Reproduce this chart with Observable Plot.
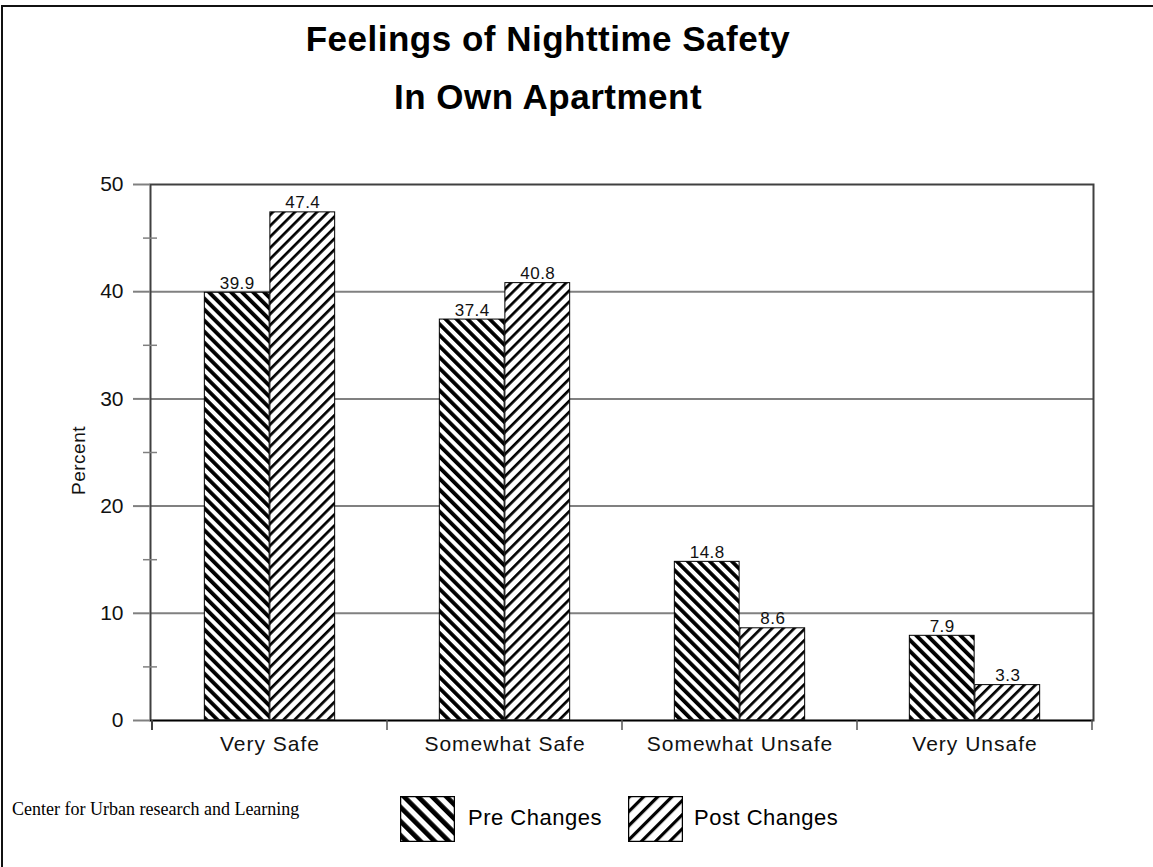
<!DOCTYPE html>
<html>
<head>
<meta charset="utf-8">
<script src="https://cdn.jsdelivr.net/npm/d3@7"></script>
<script src="https://cdn.jsdelivr.net/npm/@observablehq/plot@0.6"></script>
<style>
  html, body { margin: 0; padding: 0; background: #fff; }
  #page { position: relative; width: 1153px; height: 867px; overflow: hidden; font-family: "Liberation Sans", Arial, sans-serif; }
  #border { position: absolute; left: 1px; top: 5px; width: 1200px; height: 900px; border-top: 2px solid #111; border-left: 2px solid #111; }
  #title { position: absolute; left: 0; top: 10px; width: 1096px; text-align: center; font-weight: bold; font-size: 35px; line-height: 58px; letter-spacing: 0.5px; color: #000; }
  #chart { position: absolute; left: 0; top: 130px; }
  #chart g[aria-label="x-axis tick label"] text { letter-spacing: 1px; }
  #chart g[aria-label="text"] text { letter-spacing: 0.5px; }
  #caption { position: absolute; left: 12px; top: 800px; font-family: "Liberation Serif", "Times New Roman", serif; font-size: 18px; line-height: 18px; color: #000; white-space: nowrap; }
  .leg { position: absolute; display: flex; align-items: center; }
  .leg svg { display: block; }
  .legtext { position: absolute; font-size: 22px; line-height: 22px; letter-spacing: 0.5px; color: #000; white-space: nowrap; }
</style>
</head>
<body>
<svg width="0" height="0" style="position:absolute">
  <defs>
    <pattern id="hatchPre" patternUnits="userSpaceOnUse" width="7.8" height="10" patternTransform="rotate(-45)">
      <rect x="0" y="0" width="7.8" height="10" fill="#fff"/>
      <rect x="0" y="0" width="3.8" height="10" fill="#000"/>
    </pattern>
    <pattern id="hatchPost" patternUnits="userSpaceOnUse" width="7.8" height="10" patternTransform="rotate(45)">
      <rect x="0" y="0" width="7.8" height="10" fill="#fff"/>
      <rect x="0" y="0" width="2.7" height="10" fill="#000"/>
    </pattern>
    <pattern id="legPre" patternUnits="userSpaceOnUse" width="10" height="10" patternTransform="rotate(-45)">
      <rect x="0" y="0" width="10" height="10" fill="#fff"/>
      <rect x="0" y="0" width="4.8" height="10" fill="#000"/>
    </pattern>
    <pattern id="legPost" patternUnits="userSpaceOnUse" width="10" height="10" patternTransform="rotate(45)">
      <rect x="0" y="0" width="10" height="10" fill="#fff"/>
      <rect x="0" y="0" width="3.2" height="10" fill="#000"/>
    </pattern>
  </defs>
</svg>
<div id="page">
  <div id="border"></div>
  <div id="title"></div>
  <div id="chart"></div>
  <div id="caption"></div>
  <div id="legend"></div>
</div>
<script>
// ---- data ----
const categories = ["Very Safe", "Somewhat Safe", "Somewhat Unsafe", "Very Unsafe"];
const preValues = [39.9, 37.4, 14.8, 7.9];
const postValues = [47.4, 40.8, 8.6, 3.3];
const seriesNames = ["Pre Changes", "Post Changes"];
const yTicks = [0, 10, 20, 30, 40, 50];
const yMinorTicks = [5, 15, 25, 35, 45];
const gridTicks = [10, 20, 30, 40];
const yLabel = "Percent";
const titleText = ["Feelings of Nighttime Safety", "In Own Apartment"];
const captionText = "Center for Urban research and Learning";

// ---- tables ----
const pre = categories.map((c, i) => ({cat: c, value: preValues[i], series: seriesNames[0]}));
const post = categories.map((c, i) => ({cat: c, value: postValues[i], series: seriesNames[1]}));

// ---- title ----
const titleEl = document.getElementById("title");
titleText.forEach((t, i) => {
  if (i) titleEl.appendChild(document.createElement("br"));
  titleEl.appendChild(document.createTextNode(t));
});

// ---- layout ----
const W = 1153, H = 650, mL = 150, mR = 60, mT = 54, mB = 60;
const bw = (W - mL - mR) / categories.length;
const barW = bw * 0.278;
const gap = (bw - 2 * barW) / 2;

const chart = Plot.plot({
  width: W,
  height: H,
  marginLeft: mL,
  marginRight: mR,
  marginTop: mT,
  marginBottom: mB,
  style: {fontFamily: "'Liberation Sans', Arial, sans-serif", background: "transparent", overflow: "visible", color: "#000"},
  x: {type: "band", domain: categories, padding: 0},
  y: {domain: [0, 50]},
  marks: [
    Plot.ruleY(gridTicks, {stroke: "#808080", strokeWidth: 2}),
    Plot.barY(pre, {x: "cat", y: "value", fill: "url(#hatchPre)", stroke: "#000", strokeWidth: 1, insetLeft: gap, insetRight: gap + barW}),
    Plot.barY(post, {x: "cat", y: "value", fill: "url(#hatchPost)", stroke: "#000", strokeWidth: 1, insetLeft: gap + barW, insetRight: gap}),
    Plot.frame({stroke: "#404040", strokeWidth: 2}),
    Plot.ruleY([0], {stroke: "#000", strokeWidth: 1.5}),
    Plot.axisY({ticks: yTicks, tickSize: 17, tickPadding: 10, stroke: "#808080", strokeWidth: 2, fill: "#111", fontSize: 21, label: null}),
    Plot.axisY({ticks: yMinorTicks, tickSize: 14, dx: 7, tickFormat: () => "", stroke: "#808080", strokeWidth: 1.5, label: null}),
    Plot.axisX({tickSize: 0, tickPadding: 16, fontSize: 21, fill: "#111", label: null}),
    Plot.text([yLabel], {frameAnchor: "left", textAnchor: "middle", lineAnchor: "middle", dx: -72, dy: 8, rotate: -90, fontSize: 19, fill: "#111"}),
    Plot.text(pre, {x: "cat", y: "value", text: d => d.value.toFixed(1), dx: -barW / 2, dy: -4, lineAnchor: "bottom", fontSize: 17, fill: "#111"}),
    Plot.text(post, {x: "cat", y: "value", text: d => d.value.toFixed(1), dx: barW / 2, dy: -4, lineAnchor: "bottom", fontSize: 17, fill: "#111"})
  ]
});
document.getElementById("chart").appendChild(chart);

// category boundary ticks below the x axis, positioned from Plot's own scales
const xs = chart.scale("x"), ys = chart.scale("y");
const y0 = ys.apply(0);
const bounds = categories.map(c => xs.apply(c)).concat([xs.apply(categories[categories.length - 1]) + xs.bandwidth]);
d3.select(chart).append("g")
  .selectAll("line").data(bounds).join("line")
  .attr("x1", d => d).attr("x2", d => d)
  .attr("y1", y0).attr("y2", y0 + 10)
  .attr("stroke", (d, i) => i === 0 ? "#404040" : "#555")
  .attr("stroke-width", (d, i) => i === 0 ? 2 : 1.5);

// caption and legend
document.getElementById("caption").textContent = captionText;
const legend = document.getElementById("legend");
const legItems = [
  {name: seriesNames[0], fill: "url(#legPre)", left: 400, textLeft: 468},
  {name: seriesNames[1], fill: "url(#legPost)", left: 628, textLeft: 694}
];
legItems.forEach(it => {
  const sw = document.createElement("div");
  sw.className = "leg";
  sw.style.left = it.left + "px";
  sw.style.top = "796px";
  sw.innerHTML = `<svg width="55" height="46"><rect x="0.5" y="0.5" width="54" height="45" fill="${it.fill}" stroke="#000" stroke-width="1.5"/></svg>`;
  legend.appendChild(sw);
  const tx = document.createElement("div");
  tx.className = "legtext";
  tx.style.left = it.textLeft + "px";
  tx.style.top = "807px";
  tx.textContent = it.name;
  legend.appendChild(tx);
});
</script>
</body>
</html>
